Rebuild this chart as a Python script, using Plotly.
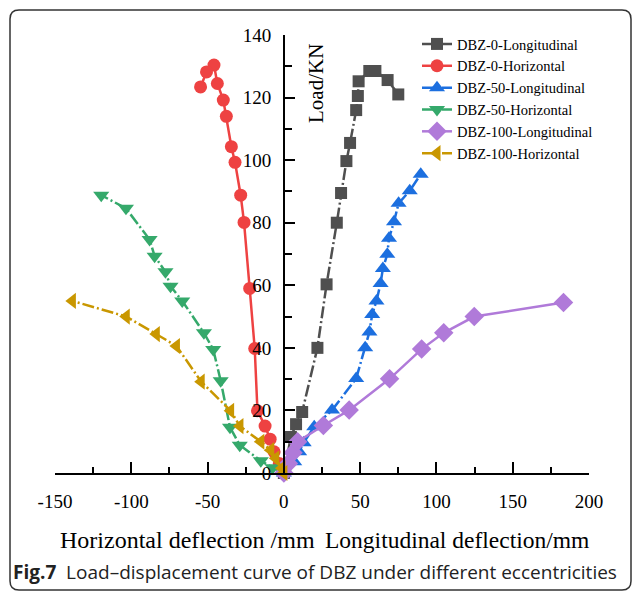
import plotly.graph_objects as go

# ---------------- data ----------------
dbz0_long_x = [0, 4.6, 8, 12, 22, 28, 34.7, 37.5, 41, 43.4, 47.4, 48.5, 49, 56, 60, 68, 75]
dbz0_long_y = [0, 11.5, 15.6, 19.5, 40, 60.3, 80, 89.5, 99.7, 105.5, 116, 120.5, 125.2, 128.5, 128.5, 125.6, 121]

dbz0_hor_x = [0, -3, -6.4, -9, -12.3, -17.3, -19.1, -22.4, -26.1, -28.3, -32, -34.4, -37.7, -39.7, -43.6, -45.8, -50.7, -54.6]
dbz0_hor_y = [0, 3, 6.8, 10.8, 15, 19.9, 39.8, 59, 80.1, 88.8, 99.3, 104.3, 114, 119.2, 124.5, 130.4, 128.2, 123.4]

dbz50_long_x = [0, 6.8, 10, 13, 19.9, 31.6, 47.4, 53.3, 56.1, 57.9, 60.7, 63.4, 64.9, 67.8, 68.9, 72.2, 75.2, 82.5, 89.7]
dbz50_long_y = [0, 3.6, 6.8, 9.7, 14.8, 20.1, 30.2, 40, 45.1, 50.7, 55, 60.6, 65.4, 69.9, 75, 80.3, 86.2, 90.2, 95.5]

dbz50_hor_x = [0, -7.4, -15.1, -28.9, -35.3, -41.4, -46.3, -52.4, -66.6, -74.3, -77.6, -84.7, -88, -103.5, -119.7]
dbz50_hor_y = [0, 1.7, 3.9, 8.9, 14.6, 29.5, 39.5, 44.8, 55, 59.7, 64.3, 69.3, 74.6, 84.6, 88.8]

dbz100_long_x = [0, 3, 6, 9, 25.9, 42.8, 69.3, 90.3, 104.8, 124.8, 183.3]
dbz100_long_y = [0, 3, 6.5, 10, 15.2, 20.1, 30.1, 39.6, 44.8, 50, 54.5]

dbz100_hor_x = [0, -1.3, -5.3, -8.6, -15.1, -28.8, -34.9, -54.2, -70.4, -83.6, -103.3, -138.6]
dbz100_hor_y = [0, 1.5, 4.7, 7.3, 10, 15, 19.9, 29.2, 40.6, 44.4, 50, 55]

series_names = ["DBZ-0-Longitudinal", "DBZ-0-Horizontal", "DBZ-50-Longitudinal",
                "DBZ-50-Horizontal", "DBZ-100-Longitudinal", "DBZ-100-Horizontal"]

x_tick_vals = [-150, -100, -50, 0, 50, 100, 150, 200]
x_tick_text = ["-150", "-100", "-50", "0", "50", "100", "150", "200"]
y_tick_vals = [0, 20, 40, 60, 80, 100, 120, 140]
y_tick_text = ["0", "20", "40", "60", "80", "100", "120", "140"]

# ---------------- styling ----------------
SERIF = "Liberation Serif"
DASHDOT = "12px,3px,2px,3px"

styles = [
    dict(color="#4f4f4f", symbol="square", size=12, dash=DASHDOT),
    dict(color="#ee4242", symbol="circle", size=13, dash="solid"),
    dict(color="#1c6fdf", symbol="triangle-up", size=14, dash=DASHDOT),
    dict(color="#35a96b", symbol="triangle-down", size=14, dash=DASHDOT),
    dict(color="#b07ad9", symbol="diamond", size=15, dash="solid"),
    dict(color="#c99700", symbol="triangle-left", size=14, dash=DASHDOT),
]
data = [
    (dbz0_long_x, dbz0_long_y),
    (dbz0_hor_x, dbz0_hor_y),
    (dbz50_long_x, dbz50_long_y),
    (dbz50_hor_x, dbz50_hor_y),
    (dbz100_long_x, dbz100_long_y),
    (dbz100_hor_x, dbz100_hor_y),
]

fig = go.Figure()
for name, (xs, ys), st in zip(series_names, data, styles):
    fig.add_trace(go.Scatter(
        x=xs, y=ys, name=name, mode="lines+markers",
        line=dict(color=st["color"], width=2.5, dash=st["dash"]),
        marker=dict(color=st["color"], symbol=st["symbol"], size=st["size"],
                    line=dict(width=0)),
        cliponaxis=False,
    ))

W, H = 632, 592
L, R, T, B = 55, 43, 35, 119
pw, ph = W - L - R, H - T - B


def px(x):
    return (x - L) / pw


def py(y):
    return 1 - (y - T) / ph


axis_font = dict(family=SERIF, size=19, color="black")

fig.update_layout(
    width=W, height=H,
    margin=dict(l=L, r=R, t=T, b=B, pad=0),
    paper_bgcolor="white", plot_bgcolor="white",
    showlegend=True,
    legend=dict(x=px(417), y=py(28), xanchor="left", yanchor="top",
                font=dict(family=SERIF, size=14.5, color="black"),
                bgcolor="rgba(0,0,0,0)", borderwidth=0, tracegroupgap=0,
                itemwidth=30),
    xaxis=dict(range=[-150, 200], tickvals=x_tick_vals, ticktext=x_tick_text,
               ticks="inside", ticklen=11, tickwidth=2, tickcolor="black",
               showline=True, linewidth=2, linecolor="black",
               showgrid=False, zeroline=False, tickfont=axis_font,
               ticklabelstandoff=10,
               minor=dict(ticks="inside", ticklen=6, tickwidth=2, dtick=25,
                          tick0=0, tickcolor="black", showgrid=False)),
    yaxis=dict(range=[0, 140], tickvals=y_tick_vals, ticktext=y_tick_text,
               anchor="free", position=px(284), side="left",
               ticks="inside", ticklen=10, tickwidth=2, tickcolor="black",
               showline=True, linewidth=2, linecolor="black",
               showgrid=False, zeroline=False, tickfont=axis_font,
               ticklabelstandoff=8,
               minor=dict(ticks="inside", ticklen=7, tickwidth=2, dtick=10,
                          tick0=0, tickcolor="black", showgrid=False)),
)

# axis titles
fig.add_annotation(text="Load/KN", x=px(316), y=py(84), xref="paper", yref="paper",
                   xanchor="center", yanchor="middle",
                   textangle=-90, showarrow=False,
                   font=dict(family=SERIF, size=21, color="black"))
fig.add_annotation(text="Horizontal deflection /mm", x=px(187), y=py(540),
                   xref="paper", yref="paper", showarrow=False,
                   xanchor="center", yanchor="middle",
                   font=dict(family=SERIF, size=24, color="black"))
fig.add_annotation(text="Longitudinal deflection/mm", x=px(457), y=py(540),
                   xref="paper", yref="paper", showarrow=False,
                   xanchor="center", yanchor="middle",
                   font=dict(family=SERIF, size=23.5, color="black"))
# caption
fig.add_annotation(text="<b>Fig.7</b>  Load–displacement curve of DBZ under different eccentricities",
                   x=px(315), y=py(572), xref="paper", yref="paper", showarrow=False,
                   xanchor="center", yanchor="middle",
                   font=dict(family="Open Sans", size=19, color="#222222"))

# rounded frame
x0, x1, y0, y1, r = 10, 631, 10, 590, 9
rx, ry = r / pw, r / ph
X0, X1, Y0, Y1 = px(x0), px(x1), py(y0), py(y1)
path = (f"M {X0 + rx},{Y0} L {X1 - rx},{Y0} Q {X1},{Y0} {X1},{Y0 - ry} "
        f"L {X1},{Y1 + ry} Q {X1},{Y1} {X1 - rx},{Y1} "
        f"L {X0 + rx},{Y1} Q {X0},{Y1} {X0},{Y1 + ry} "
        f"L {X0},{Y0 - ry} Q {X0},{Y0} {X0 + rx},{Y0} Z")
fig.add_shape(type="path", path=path, xref="paper", yref="paper",
              line=dict(color="#333333", width=1.5), layer="below")

fig.write_html("out.html",
               config={"displayModeBar": False},
               post_script="document.body.style.margin='0';document.body.style.overflow='hidden';")
